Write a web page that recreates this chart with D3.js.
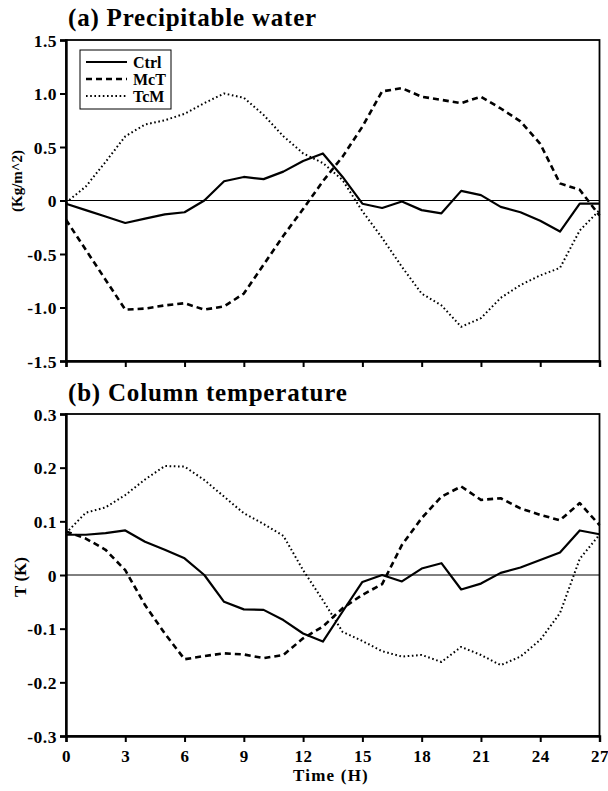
<!DOCTYPE html>
<html><head><meta charset="utf-8">
<script src="https://cdn.jsdelivr.net/npm/d3@7"></script>
<style>body{margin:0;background:#fff}svg{display:block}text{font-family:"Liberation Serif","Times New Roman",serif;font-weight:bold;fill:#000}</style>
</head><body>
<script>
const hours = d3.range(0, 28);
const xTicks = [0,3,6,9,12,15,18,21,24,27];
const pwTicks = [-1.5,-1.0,-0.5,0,0.5,1.0,1.5];
const pwTickLabels = ["-1.5","-1.0","-0.5","0","0.5","1.0","1.5"];
const tTicks = [-0.3,-0.2,-0.1,0,0.1,0.2,0.3];
const tTickLabels = ["-0.3","-0.2","-0.1","0","0.1","0.2","0.3"];
const seriesNames = ["Ctrl","McT","TcM"];

const pwCtrl = [-0.03,-0.09,-0.15,-0.21,-0.17,-0.13,-0.11,0.0,0.18,0.22,0.2,0.27,0.37,0.44,0.22,-0.03,-0.07,-0.01,-0.09,-0.12,0.09,0.05,-0.06,-0.11,-0.19,-0.29,-0.03,-0.03];
const pwMcT = [-0.18,-0.46,-0.74,-1.02,-1.01,-0.98,-0.96,-1.02,-0.99,-0.87,-0.6,-0.33,-0.08,0.18,0.41,0.69,1.02,1.05,0.97,0.94,0.91,0.97,0.86,0.74,0.53,0.16,0.1,-0.14];
const pwTcM = [-0.02,0.13,0.36,0.6,0.71,0.75,0.81,0.91,1.0,0.96,0.8,0.6,0.44,0.35,0.19,-0.1,-0.35,-0.62,-0.87,-0.98,-1.18,-1.1,-0.91,-0.79,-0.7,-0.63,-0.28,-0.09];

const tCtrl = [0.075,0.075,0.078,0.083,0.062,0.047,0.031,0.0,-0.05,-0.064,-0.065,-0.084,-0.109,-0.124,-0.068,-0.013,0.0,-0.012,0.012,0.022,-0.027,-0.016,0.004,0.014,0.028,0.042,0.083,0.076];
const tMcT = [0.081,0.068,0.047,0.009,-0.056,-0.109,-0.157,-0.151,-0.146,-0.148,-0.155,-0.149,-0.118,-0.096,-0.062,-0.037,-0.017,0.056,0.106,0.146,0.165,0.14,0.143,0.124,0.112,0.102,0.134,0.093];
const tTcM = [0.078,0.116,0.126,0.149,0.178,0.203,0.202,0.177,0.146,0.115,0.095,0.073,0.009,-0.047,-0.106,-0.123,-0.142,-0.152,-0.149,-0.162,-0.134,-0.149,-0.168,-0.152,-0.121,-0.071,0.03,0.075];

const styles = {
  Ctrl:{width:2.2, dash:null},
  McT:{width:2.6, dash:"6,4"},
  TcM:{width:2, dash:"1.6,2.6"}
};

const W = 608, H = 791;
const svg = d3.select("body").append("svg").attr("width", W).attr("height", H);
const x = d3.scaleLinear().domain([0,27]).range([66, 599.5]);

function panel(opts){
  const y = d3.scaleLinear().domain(opts.domain).range(opts.range);
  const g = svg.append("g");
  g.append("line").attr("x1", x(0)).attr("x2", x(27)).attr("y1", y(0)).attr("y2", y(0))
    .attr("stroke","#000").attr("stroke-width",1);
  const line = d3.line().x((d,i)=>x(hours[i])).y(d=>y(d));
  opts.series.forEach((s,k)=>{
    const st = styles[seriesNames[k]];
    g.append("path").datum(s).attr("d", line).attr("fill","none").attr("stroke","#000")
      .attr("stroke-width", st.width).attr("stroke-dasharray", st.dash).attr("stroke-linejoin","round");
  });
  g.append("rect").attr("x", x(0)).attr("y", y(opts.domain[1])).attr("width", x(27)-x(0))
    .attr("height", y(opts.domain[0]) - y(opts.domain[1])).attr("fill","none").attr("stroke","#000").attr("stroke-width",1.8);
  const ya = d3.axisLeft(y).tickValues(opts.ticks).tickFormat((d,i)=>opts.labels[i]).tickSize(6).tickPadding(3);
  const yg = g.append("g").attr("transform",`translate(${x(0)},0)`).call(ya);
  yg.attr("font-family", null);
  yg.select(".domain").attr("stroke-width",2.4);
  yg.selectAll(".tick line").attr("stroke-width",2);
  yg.selectAll("text").style("font-size","17.5px").style("letter-spacing","0.5px").attr("dy","0.36em");
  const xa = d3.axisBottom(x).tickValues(xTicks).tickSize(6).tickPadding(8).tickFormat(opts.showX ? d3.format("d") : ()=>"");
  const xg = g.append("g").attr("transform",`translate(0,${y(opts.domain[0])})`).call(xa);
  xg.attr("font-family", null);
  xg.select(".domain").attr("stroke-width",2.4);
  xg.selectAll(".tick line").attr("stroke-width",2);
  xg.selectAll("text").style("font-size","17px").style("letter-spacing","0.5px");
  svg.append("text").attr("x",68).attr("y",opts.titleY).style("font-size","25px").style("letter-spacing","0.8px").text(opts.title);
  svg.append("text").attr("transform",`translate(${opts.ylabelX},${opts.ylabelY}) rotate(-90)`).attr("text-anchor","middle")
    .style("font-size", opts.ylabelSize).text(opts.ylabel);
  return y;
}

panel({domain:[-1.5,1.5], range:[361,40], ticks:pwTicks, labels:pwTickLabels, series:[pwCtrl,pwMcT,pwTcM],
  title:"(a) Precipitable water", titleY:26, ylabel:"(Kg/m^2)", ylabelX:22, ylabelY:181, ylabelSize:"15px", showX:false});
panel({domain:[-0.3,0.3], range:[736,414], ticks:tTicks, labels:tTickLabels, series:[tCtrl,tMcT,tTcM],
  title:"(b) Column temperature", titleY:401, ylabel:"T (K)", ylabelX:26, ylabelY:577, ylabelSize:"17px", showX:true});

svg.append("text").attr("x",331).attr("y",781).attr("text-anchor","middle").style("font-size","17px").style("letter-spacing","1.2px").text("Time (H)");

const lg = svg.append("g");
lg.append("rect").attr("x",80).attr("y",50).attr("width",91).attr("height",59).attr("fill","#fff").attr("stroke","#000").attr("stroke-width",1);
seriesNames.forEach((n,i)=>{
  const yy = 62 + i*17;
  const st = styles[n];
  lg.append("line").attr("x1",86).attr("x2",127).attr("y1",yy).attr("y2",yy).attr("stroke","#000")
    .attr("stroke-width",st.width).attr("stroke-dasharray",st.dash);
  lg.append("text").attr("x",133).attr("y",yy).attr("dy","0.35em").style("font-size","16px").text(n);
});
</script>
</body></html>
